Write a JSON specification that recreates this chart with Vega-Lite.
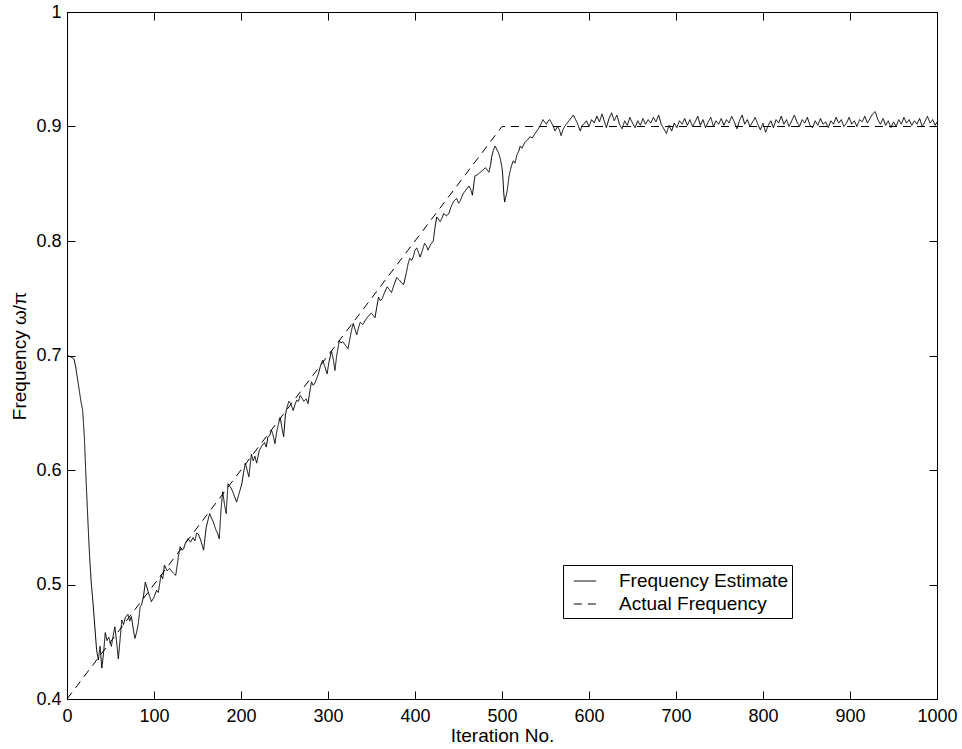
{
  "$schema": "https://vega.github.io/schema/vega-lite/v6.json",
  "autosize": "none",
  "width": 870,
  "height": 687,
  "padding": {"left": 67, "top": 12, "right": 25, "bottom": 50},
  "background": "white",
  "config": {
    "font": "Liberation Sans",
    "view": {"stroke": "black", "strokeWidth": 1},
    "axis": {
      "grid": false,
      "domainColor": "black",
      "domainWidth": 1,
      "tickColor": "black",
      "tickWidth": 1,
      "tickSize": -8,
      "labelColor": "black",
      "labelFontSize": 18,
      "labelFlush": false,
      "labelOverlap": false,
      "titleColor": "black",
      "titleFontSize": 19,
      "titleFontWeight": "normal"
    }
  },
  "datasets": {
    "estimate": [
      {"iter": 0, "value": 0.700, "series": "Frequency Estimate"},
      {"iter": 4, "value": 0.699, "series": "Frequency Estimate"},
      {"iter": 8, "value": 0.697, "series": "Frequency Estimate"},
      {"iter": 10, "value": 0.690, "series": "Frequency Estimate"},
      {"iter": 13, "value": 0.675, "series": "Frequency Estimate"},
      {"iter": 16, "value": 0.660, "series": "Frequency Estimate"},
      {"iter": 18, "value": 0.652, "series": "Frequency Estimate"},
      {"iter": 20, "value": 0.628, "series": "Frequency Estimate"},
      {"iter": 22, "value": 0.590, "series": "Frequency Estimate"},
      {"iter": 24, "value": 0.556, "series": "Frequency Estimate"},
      {"iter": 26, "value": 0.524, "series": "Frequency Estimate"},
      {"iter": 28, "value": 0.500, "series": "Frequency Estimate"},
      {"iter": 30, "value": 0.483, "series": "Frequency Estimate"},
      {"iter": 32, "value": 0.463, "series": "Frequency Estimate"},
      {"iter": 34, "value": 0.443, "series": "Frequency Estimate"},
      {"iter": 36, "value": 0.434, "series": "Frequency Estimate"},
      {"iter": 38, "value": 0.446, "series": "Frequency Estimate"},
      {"iter": 40, "value": 0.427, "series": "Frequency Estimate"},
      {"iter": 42, "value": 0.440, "series": "Frequency Estimate"},
      {"iter": 44, "value": 0.458, "series": "Frequency Estimate"},
      {"iter": 46, "value": 0.451, "series": "Frequency Estimate"},
      {"iter": 48, "value": 0.454, "series": "Frequency Estimate"},
      {"iter": 51, "value": 0.446, "series": "Frequency Estimate"},
      {"iter": 53, "value": 0.455, "series": "Frequency Estimate"},
      {"iter": 55, "value": 0.463, "series": "Frequency Estimate"},
      {"iter": 57, "value": 0.450, "series": "Frequency Estimate"},
      {"iter": 59, "value": 0.435, "series": "Frequency Estimate"},
      {"iter": 61, "value": 0.452, "series": "Frequency Estimate"},
      {"iter": 63, "value": 0.469, "series": "Frequency Estimate"},
      {"iter": 65, "value": 0.465, "series": "Frequency Estimate"},
      {"iter": 67, "value": 0.471, "series": "Frequency Estimate"},
      {"iter": 70, "value": 0.474, "series": "Frequency Estimate"},
      {"iter": 72, "value": 0.468, "series": "Frequency Estimate"},
      {"iter": 74, "value": 0.472, "series": "Frequency Estimate"},
      {"iter": 76, "value": 0.462, "series": "Frequency Estimate"},
      {"iter": 78, "value": 0.453, "series": "Frequency Estimate"},
      {"iter": 80, "value": 0.458, "series": "Frequency Estimate"},
      {"iter": 82, "value": 0.466, "series": "Frequency Estimate"},
      {"iter": 84, "value": 0.480, "series": "Frequency Estimate"},
      {"iter": 86, "value": 0.483, "series": "Frequency Estimate"},
      {"iter": 88, "value": 0.490, "series": "Frequency Estimate"},
      {"iter": 90, "value": 0.502, "series": "Frequency Estimate"},
      {"iter": 92, "value": 0.497, "series": "Frequency Estimate"},
      {"iter": 94, "value": 0.492, "series": "Frequency Estimate"},
      {"iter": 97, "value": 0.485, "series": "Frequency Estimate"},
      {"iter": 100, "value": 0.489, "series": "Frequency Estimate"},
      {"iter": 103, "value": 0.495, "series": "Frequency Estimate"},
      {"iter": 105, "value": 0.493, "series": "Frequency Estimate"},
      {"iter": 108, "value": 0.508, "series": "Frequency Estimate"},
      {"iter": 110, "value": 0.505, "series": "Frequency Estimate"},
      {"iter": 112, "value": 0.517, "series": "Frequency Estimate"},
      {"iter": 115, "value": 0.512, "series": "Frequency Estimate"},
      {"iter": 118, "value": 0.514, "series": "Frequency Estimate"},
      {"iter": 121, "value": 0.511, "series": "Frequency Estimate"},
      {"iter": 125, "value": 0.508, "series": "Frequency Estimate"},
      {"iter": 128, "value": 0.524, "series": "Frequency Estimate"},
      {"iter": 130, "value": 0.533, "series": "Frequency Estimate"},
      {"iter": 132, "value": 0.530, "series": "Frequency Estimate"},
      {"iter": 134, "value": 0.531, "series": "Frequency Estimate"},
      {"iter": 136, "value": 0.536, "series": "Frequency Estimate"},
      {"iter": 139, "value": 0.540, "series": "Frequency Estimate"},
      {"iter": 142, "value": 0.537, "series": "Frequency Estimate"},
      {"iter": 145, "value": 0.541, "series": "Frequency Estimate"},
      {"iter": 147, "value": 0.538, "series": "Frequency Estimate"},
      {"iter": 149, "value": 0.545, "series": "Frequency Estimate"},
      {"iter": 151, "value": 0.544, "series": "Frequency Estimate"},
      {"iter": 154, "value": 0.538, "series": "Frequency Estimate"},
      {"iter": 157, "value": 0.530, "series": "Frequency Estimate"},
      {"iter": 160, "value": 0.550, "series": "Frequency Estimate"},
      {"iter": 162, "value": 0.556, "series": "Frequency Estimate"},
      {"iter": 164, "value": 0.562, "series": "Frequency Estimate"},
      {"iter": 166, "value": 0.558, "series": "Frequency Estimate"},
      {"iter": 168, "value": 0.555, "series": "Frequency Estimate"},
      {"iter": 171, "value": 0.548, "series": "Frequency Estimate"},
      {"iter": 173, "value": 0.545, "series": "Frequency Estimate"},
      {"iter": 175, "value": 0.540, "series": "Frequency Estimate"},
      {"iter": 177, "value": 0.565, "series": "Frequency Estimate"},
      {"iter": 179, "value": 0.581, "series": "Frequency Estimate"},
      {"iter": 181, "value": 0.570, "series": "Frequency Estimate"},
      {"iter": 183, "value": 0.562, "series": "Frequency Estimate"},
      {"iter": 185, "value": 0.588, "series": "Frequency Estimate"},
      {"iter": 188, "value": 0.585, "series": "Frequency Estimate"},
      {"iter": 190, "value": 0.582, "series": "Frequency Estimate"},
      {"iter": 193, "value": 0.576, "series": "Frequency Estimate"},
      {"iter": 195, "value": 0.572, "series": "Frequency Estimate"},
      {"iter": 198, "value": 0.580, "series": "Frequency Estimate"},
      {"iter": 201, "value": 0.588, "series": "Frequency Estimate"},
      {"iter": 203, "value": 0.598, "series": "Frequency Estimate"},
      {"iter": 205, "value": 0.606, "series": "Frequency Estimate"},
      {"iter": 207, "value": 0.600, "series": "Frequency Estimate"},
      {"iter": 209, "value": 0.594, "series": "Frequency Estimate"},
      {"iter": 212, "value": 0.614, "series": "Frequency Estimate"},
      {"iter": 214, "value": 0.608, "series": "Frequency Estimate"},
      {"iter": 216, "value": 0.612, "series": "Frequency Estimate"},
      {"iter": 218, "value": 0.606, "series": "Frequency Estimate"},
      {"iter": 221, "value": 0.617, "series": "Frequency Estimate"},
      {"iter": 224, "value": 0.621, "series": "Frequency Estimate"},
      {"iter": 227, "value": 0.624, "series": "Frequency Estimate"},
      {"iter": 229, "value": 0.620, "series": "Frequency Estimate"},
      {"iter": 231, "value": 0.629, "series": "Frequency Estimate"},
      {"iter": 233, "value": 0.630, "series": "Frequency Estimate"},
      {"iter": 235, "value": 0.635, "series": "Frequency Estimate"},
      {"iter": 237, "value": 0.630, "series": "Frequency Estimate"},
      {"iter": 239, "value": 0.623, "series": "Frequency Estimate"},
      {"iter": 241, "value": 0.633, "series": "Frequency Estimate"},
      {"iter": 243, "value": 0.640, "series": "Frequency Estimate"},
      {"iter": 245, "value": 0.646, "series": "Frequency Estimate"},
      {"iter": 247, "value": 0.637, "series": "Frequency Estimate"},
      {"iter": 249, "value": 0.629, "series": "Frequency Estimate"},
      {"iter": 251, "value": 0.648, "series": "Frequency Estimate"},
      {"iter": 253, "value": 0.655, "series": "Frequency Estimate"},
      {"iter": 255, "value": 0.660, "series": "Frequency Estimate"},
      {"iter": 257, "value": 0.658, "series": "Frequency Estimate"},
      {"iter": 260, "value": 0.652, "series": "Frequency Estimate"},
      {"iter": 262, "value": 0.657, "series": "Frequency Estimate"},
      {"iter": 264, "value": 0.661, "series": "Frequency Estimate"},
      {"iter": 266, "value": 0.660, "series": "Frequency Estimate"},
      {"iter": 268, "value": 0.665, "series": "Frequency Estimate"},
      {"iter": 270, "value": 0.663, "series": "Frequency Estimate"},
      {"iter": 272, "value": 0.660, "series": "Frequency Estimate"},
      {"iter": 275, "value": 0.662, "series": "Frequency Estimate"},
      {"iter": 277, "value": 0.658, "series": "Frequency Estimate"},
      {"iter": 279, "value": 0.668, "series": "Frequency Estimate"},
      {"iter": 281, "value": 0.677, "series": "Frequency Estimate"},
      {"iter": 283, "value": 0.674, "series": "Frequency Estimate"},
      {"iter": 285, "value": 0.676, "series": "Frequency Estimate"},
      {"iter": 287, "value": 0.680, "series": "Frequency Estimate"},
      {"iter": 289, "value": 0.684, "series": "Frequency Estimate"},
      {"iter": 291, "value": 0.690, "series": "Frequency Estimate"},
      {"iter": 294, "value": 0.696, "series": "Frequency Estimate"},
      {"iter": 296, "value": 0.691, "series": "Frequency Estimate"},
      {"iter": 299, "value": 0.684, "series": "Frequency Estimate"},
      {"iter": 301, "value": 0.694, "series": "Frequency Estimate"},
      {"iter": 304, "value": 0.704, "series": "Frequency Estimate"},
      {"iter": 306, "value": 0.697, "series": "Frequency Estimate"},
      {"iter": 308, "value": 0.687, "series": "Frequency Estimate"},
      {"iter": 310, "value": 0.700, "series": "Frequency Estimate"},
      {"iter": 313, "value": 0.713, "series": "Frequency Estimate"},
      {"iter": 315, "value": 0.711, "series": "Frequency Estimate"},
      {"iter": 317, "value": 0.712, "series": "Frequency Estimate"},
      {"iter": 320, "value": 0.709, "series": "Frequency Estimate"},
      {"iter": 323, "value": 0.706, "series": "Frequency Estimate"},
      {"iter": 325, "value": 0.714, "series": "Frequency Estimate"},
      {"iter": 327, "value": 0.722, "series": "Frequency Estimate"},
      {"iter": 329, "value": 0.728, "series": "Frequency Estimate"},
      {"iter": 331, "value": 0.723, "series": "Frequency Estimate"},
      {"iter": 333, "value": 0.718, "series": "Frequency Estimate"},
      {"iter": 335, "value": 0.724, "series": "Frequency Estimate"},
      {"iter": 337, "value": 0.729, "series": "Frequency Estimate"},
      {"iter": 340, "value": 0.727, "series": "Frequency Estimate"},
      {"iter": 343, "value": 0.731, "series": "Frequency Estimate"},
      {"iter": 345, "value": 0.733, "series": "Frequency Estimate"},
      {"iter": 347, "value": 0.735, "series": "Frequency Estimate"},
      {"iter": 350, "value": 0.737, "series": "Frequency Estimate"},
      {"iter": 352, "value": 0.735, "series": "Frequency Estimate"},
      {"iter": 354, "value": 0.733, "series": "Frequency Estimate"},
      {"iter": 356, "value": 0.742, "series": "Frequency Estimate"},
      {"iter": 358, "value": 0.751, "series": "Frequency Estimate"},
      {"iter": 360, "value": 0.748, "series": "Frequency Estimate"},
      {"iter": 362, "value": 0.749, "series": "Frequency Estimate"},
      {"iter": 365, "value": 0.755, "series": "Frequency Estimate"},
      {"iter": 368, "value": 0.760, "series": "Frequency Estimate"},
      {"iter": 370, "value": 0.758, "series": "Frequency Estimate"},
      {"iter": 373, "value": 0.755, "series": "Frequency Estimate"},
      {"iter": 376, "value": 0.762, "series": "Frequency Estimate"},
      {"iter": 379, "value": 0.768, "series": "Frequency Estimate"},
      {"iter": 382, "value": 0.766, "series": "Frequency Estimate"},
      {"iter": 385, "value": 0.763, "series": "Frequency Estimate"},
      {"iter": 387, "value": 0.762, "series": "Frequency Estimate"},
      {"iter": 390, "value": 0.772, "series": "Frequency Estimate"},
      {"iter": 392, "value": 0.780, "series": "Frequency Estimate"},
      {"iter": 394, "value": 0.785, "series": "Frequency Estimate"},
      {"iter": 396, "value": 0.783, "series": "Frequency Estimate"},
      {"iter": 398, "value": 0.786, "series": "Frequency Estimate"},
      {"iter": 400, "value": 0.792, "series": "Frequency Estimate"},
      {"iter": 402, "value": 0.794, "series": "Frequency Estimate"},
      {"iter": 404, "value": 0.790, "series": "Frequency Estimate"},
      {"iter": 406, "value": 0.786, "series": "Frequency Estimate"},
      {"iter": 409, "value": 0.793, "series": "Frequency Estimate"},
      {"iter": 411, "value": 0.798, "series": "Frequency Estimate"},
      {"iter": 413, "value": 0.796, "series": "Frequency Estimate"},
      {"iter": 415, "value": 0.792, "series": "Frequency Estimate"},
      {"iter": 418, "value": 0.797, "series": "Frequency Estimate"},
      {"iter": 421, "value": 0.800, "series": "Frequency Estimate"},
      {"iter": 423, "value": 0.812, "series": "Frequency Estimate"},
      {"iter": 425, "value": 0.821, "series": "Frequency Estimate"},
      {"iter": 427, "value": 0.819, "series": "Frequency Estimate"},
      {"iter": 429, "value": 0.817, "series": "Frequency Estimate"},
      {"iter": 431, "value": 0.820, "series": "Frequency Estimate"},
      {"iter": 433, "value": 0.824, "series": "Frequency Estimate"},
      {"iter": 436, "value": 0.822, "series": "Frequency Estimate"},
      {"iter": 439, "value": 0.824, "series": "Frequency Estimate"},
      {"iter": 441, "value": 0.829, "series": "Frequency Estimate"},
      {"iter": 444, "value": 0.834, "series": "Frequency Estimate"},
      {"iter": 446, "value": 0.836, "series": "Frequency Estimate"},
      {"iter": 448, "value": 0.837, "series": "Frequency Estimate"},
      {"iter": 450, "value": 0.833, "series": "Frequency Estimate"},
      {"iter": 452, "value": 0.835, "series": "Frequency Estimate"},
      {"iter": 455, "value": 0.841, "series": "Frequency Estimate"},
      {"iter": 458, "value": 0.844, "series": "Frequency Estimate"},
      {"iter": 460, "value": 0.846, "series": "Frequency Estimate"},
      {"iter": 462, "value": 0.848, "series": "Frequency Estimate"},
      {"iter": 464, "value": 0.845, "series": "Frequency Estimate"},
      {"iter": 466, "value": 0.840, "series": "Frequency Estimate"},
      {"iter": 468, "value": 0.852, "series": "Frequency Estimate"},
      {"iter": 469, "value": 0.857, "series": "Frequency Estimate"},
      {"iter": 472, "value": 0.858, "series": "Frequency Estimate"},
      {"iter": 475, "value": 0.860, "series": "Frequency Estimate"},
      {"iter": 478, "value": 0.862, "series": "Frequency Estimate"},
      {"iter": 481, "value": 0.864, "series": "Frequency Estimate"},
      {"iter": 483, "value": 0.862, "series": "Frequency Estimate"},
      {"iter": 485, "value": 0.860, "series": "Frequency Estimate"},
      {"iter": 487, "value": 0.867, "series": "Frequency Estimate"},
      {"iter": 488, "value": 0.873, "series": "Frequency Estimate"},
      {"iter": 490, "value": 0.879, "series": "Frequency Estimate"},
      {"iter": 492, "value": 0.883, "series": "Frequency Estimate"},
      {"iter": 494, "value": 0.880, "series": "Frequency Estimate"},
      {"iter": 496, "value": 0.877, "series": "Frequency Estimate"},
      {"iter": 498, "value": 0.872, "series": "Frequency Estimate"},
      {"iter": 500, "value": 0.864, "series": "Frequency Estimate"},
      {"iter": 501, "value": 0.856, "series": "Frequency Estimate"},
      {"iter": 502, "value": 0.842, "series": "Frequency Estimate"},
      {"iter": 503, "value": 0.834, "series": "Frequency Estimate"},
      {"iter": 504, "value": 0.837, "series": "Frequency Estimate"},
      {"iter": 506, "value": 0.844, "series": "Frequency Estimate"},
      {"iter": 508, "value": 0.856, "series": "Frequency Estimate"},
      {"iter": 509, "value": 0.860, "series": "Frequency Estimate"},
      {"iter": 511, "value": 0.866, "series": "Frequency Estimate"},
      {"iter": 513, "value": 0.870, "series": "Frequency Estimate"},
      {"iter": 515, "value": 0.868, "series": "Frequency Estimate"},
      {"iter": 517, "value": 0.875, "series": "Frequency Estimate"},
      {"iter": 519, "value": 0.878, "series": "Frequency Estimate"},
      {"iter": 521, "value": 0.883, "series": "Frequency Estimate"},
      {"iter": 523, "value": 0.881, "series": "Frequency Estimate"},
      {"iter": 526, "value": 0.886, "series": "Frequency Estimate"},
      {"iter": 529, "value": 0.888, "series": "Frequency Estimate"},
      {"iter": 532, "value": 0.891, "series": "Frequency Estimate"},
      {"iter": 535, "value": 0.890, "series": "Frequency Estimate"},
      {"iter": 538, "value": 0.894, "series": "Frequency Estimate"},
      {"iter": 541, "value": 0.897, "series": "Frequency Estimate"},
      {"iter": 544, "value": 0.901, "series": "Frequency Estimate"},
      {"iter": 546, "value": 0.904, "series": "Frequency Estimate"},
      {"iter": 547, "value": 0.906, "series": "Frequency Estimate"},
      {"iter": 549, "value": 0.904, "series": "Frequency Estimate"},
      {"iter": 551, "value": 0.902, "series": "Frequency Estimate"},
      {"iter": 553, "value": 0.905, "series": "Frequency Estimate"},
      {"iter": 555, "value": 0.906, "series": "Frequency Estimate"},
      {"iter": 557, "value": 0.903, "series": "Frequency Estimate"},
      {"iter": 559, "value": 0.900, "series": "Frequency Estimate"},
      {"iter": 561, "value": 0.896, "series": "Frequency Estimate"},
      {"iter": 563, "value": 0.899, "series": "Frequency Estimate"},
      {"iter": 564, "value": 0.900, "series": "Frequency Estimate"},
      {"iter": 566, "value": 0.897, "series": "Frequency Estimate"},
      {"iter": 568, "value": 0.892, "series": "Frequency Estimate"},
      {"iter": 570, "value": 0.897, "series": "Frequency Estimate"},
      {"iter": 572, "value": 0.900, "series": "Frequency Estimate"},
      {"iter": 574, "value": 0.902, "series": "Frequency Estimate"},
      {"iter": 576, "value": 0.904, "series": "Frequency Estimate"},
      {"iter": 578, "value": 0.906, "series": "Frequency Estimate"},
      {"iter": 580, "value": 0.908, "series": "Frequency Estimate"},
      {"iter": 582, "value": 0.910, "series": "Frequency Estimate"},
      {"iter": 584, "value": 0.907, "series": "Frequency Estimate"},
      {"iter": 586, "value": 0.904, "series": "Frequency Estimate"},
      {"iter": 588, "value": 0.900, "series": "Frequency Estimate"},
      {"iter": 590, "value": 0.896, "series": "Frequency Estimate"},
      {"iter": 592, "value": 0.901, "series": "Frequency Estimate"},
      {"iter": 594, "value": 0.902, "series": "Frequency Estimate"},
      {"iter": 597, "value": 0.905, "series": "Frequency Estimate"},
      {"iter": 600, "value": 0.900, "series": "Frequency Estimate"},
      {"iter": 603, "value": 0.906, "series": "Frequency Estimate"},
      {"iter": 606, "value": 0.903, "series": "Frequency Estimate"},
      {"iter": 609, "value": 0.909, "series": "Frequency Estimate"},
      {"iter": 612, "value": 0.904, "series": "Frequency Estimate"},
      {"iter": 615, "value": 0.911, "series": "Frequency Estimate"},
      {"iter": 617, "value": 0.906, "series": "Frequency Estimate"},
      {"iter": 620, "value": 0.899, "series": "Frequency Estimate"},
      {"iter": 623, "value": 0.907, "series": "Frequency Estimate"},
      {"iter": 626, "value": 0.912, "series": "Frequency Estimate"},
      {"iter": 629, "value": 0.905, "series": "Frequency Estimate"},
      {"iter": 632, "value": 0.910, "series": "Frequency Estimate"},
      {"iter": 635, "value": 0.902, "series": "Frequency Estimate"},
      {"iter": 638, "value": 0.898, "series": "Frequency Estimate"},
      {"iter": 641, "value": 0.905, "series": "Frequency Estimate"},
      {"iter": 644, "value": 0.901, "series": "Frequency Estimate"},
      {"iter": 647, "value": 0.908, "series": "Frequency Estimate"},
      {"iter": 650, "value": 0.903, "series": "Frequency Estimate"},
      {"iter": 653, "value": 0.899, "series": "Frequency Estimate"},
      {"iter": 656, "value": 0.905, "series": "Frequency Estimate"},
      {"iter": 659, "value": 0.901, "series": "Frequency Estimate"},
      {"iter": 662, "value": 0.907, "series": "Frequency Estimate"},
      {"iter": 665, "value": 0.902, "series": "Frequency Estimate"},
      {"iter": 668, "value": 0.906, "series": "Frequency Estimate"},
      {"iter": 671, "value": 0.903, "series": "Frequency Estimate"},
      {"iter": 674, "value": 0.908, "series": "Frequency Estimate"},
      {"iter": 677, "value": 0.904, "series": "Frequency Estimate"},
      {"iter": 680, "value": 0.910, "series": "Frequency Estimate"},
      {"iter": 683, "value": 0.902, "series": "Frequency Estimate"},
      {"iter": 686, "value": 0.898, "series": "Frequency Estimate"},
      {"iter": 689, "value": 0.894, "series": "Frequency Estimate"},
      {"iter": 692, "value": 0.901, "series": "Frequency Estimate"},
      {"iter": 695, "value": 0.896, "series": "Frequency Estimate"},
      {"iter": 698, "value": 0.903, "series": "Frequency Estimate"},
      {"iter": 701, "value": 0.899, "series": "Frequency Estimate"},
      {"iter": 704, "value": 0.905, "series": "Frequency Estimate"},
      {"iter": 707, "value": 0.902, "series": "Frequency Estimate"},
      {"iter": 710, "value": 0.907, "series": "Frequency Estimate"},
      {"iter": 713, "value": 0.901, "series": "Frequency Estimate"},
      {"iter": 716, "value": 0.906, "series": "Frequency Estimate"},
      {"iter": 719, "value": 0.900, "series": "Frequency Estimate"},
      {"iter": 722, "value": 0.904, "series": "Frequency Estimate"},
      {"iter": 725, "value": 0.909, "series": "Frequency Estimate"},
      {"iter": 728, "value": 0.901, "series": "Frequency Estimate"},
      {"iter": 731, "value": 0.906, "series": "Frequency Estimate"},
      {"iter": 734, "value": 0.899, "series": "Frequency Estimate"},
      {"iter": 737, "value": 0.904, "series": "Frequency Estimate"},
      {"iter": 740, "value": 0.908, "series": "Frequency Estimate"},
      {"iter": 743, "value": 0.900, "series": "Frequency Estimate"},
      {"iter": 746, "value": 0.905, "series": "Frequency Estimate"},
      {"iter": 749, "value": 0.902, "series": "Frequency Estimate"},
      {"iter": 752, "value": 0.907, "series": "Frequency Estimate"},
      {"iter": 755, "value": 0.901, "series": "Frequency Estimate"},
      {"iter": 758, "value": 0.906, "series": "Frequency Estimate"},
      {"iter": 761, "value": 0.903, "series": "Frequency Estimate"},
      {"iter": 764, "value": 0.909, "series": "Frequency Estimate"},
      {"iter": 767, "value": 0.904, "series": "Frequency Estimate"},
      {"iter": 770, "value": 0.898, "series": "Frequency Estimate"},
      {"iter": 773, "value": 0.905, "series": "Frequency Estimate"},
      {"iter": 776, "value": 0.910, "series": "Frequency Estimate"},
      {"iter": 779, "value": 0.902, "series": "Frequency Estimate"},
      {"iter": 782, "value": 0.906, "series": "Frequency Estimate"},
      {"iter": 785, "value": 0.900, "series": "Frequency Estimate"},
      {"iter": 788, "value": 0.904, "series": "Frequency Estimate"},
      {"iter": 791, "value": 0.908, "series": "Frequency Estimate"},
      {"iter": 794, "value": 0.902, "series": "Frequency Estimate"},
      {"iter": 797, "value": 0.897, "series": "Frequency Estimate"},
      {"iter": 800, "value": 0.903, "series": "Frequency Estimate"},
      {"iter": 803, "value": 0.895, "series": "Frequency Estimate"},
      {"iter": 806, "value": 0.901, "series": "Frequency Estimate"},
      {"iter": 809, "value": 0.905, "series": "Frequency Estimate"},
      {"iter": 812, "value": 0.899, "series": "Frequency Estimate"},
      {"iter": 815, "value": 0.906, "series": "Frequency Estimate"},
      {"iter": 818, "value": 0.903, "series": "Frequency Estimate"},
      {"iter": 821, "value": 0.909, "series": "Frequency Estimate"},
      {"iter": 824, "value": 0.902, "series": "Frequency Estimate"},
      {"iter": 827, "value": 0.906, "series": "Frequency Estimate"},
      {"iter": 830, "value": 0.900, "series": "Frequency Estimate"},
      {"iter": 833, "value": 0.905, "series": "Frequency Estimate"},
      {"iter": 836, "value": 0.910, "series": "Frequency Estimate"},
      {"iter": 839, "value": 0.904, "series": "Frequency Estimate"},
      {"iter": 842, "value": 0.900, "series": "Frequency Estimate"},
      {"iter": 845, "value": 0.906, "series": "Frequency Estimate"},
      {"iter": 848, "value": 0.903, "series": "Frequency Estimate"},
      {"iter": 851, "value": 0.908, "series": "Frequency Estimate"},
      {"iter": 854, "value": 0.901, "series": "Frequency Estimate"},
      {"iter": 857, "value": 0.899, "series": "Frequency Estimate"},
      {"iter": 860, "value": 0.905, "series": "Frequency Estimate"},
      {"iter": 863, "value": 0.901, "series": "Frequency Estimate"},
      {"iter": 866, "value": 0.907, "series": "Frequency Estimate"},
      {"iter": 869, "value": 0.902, "series": "Frequency Estimate"},
      {"iter": 872, "value": 0.904, "series": "Frequency Estimate"},
      {"iter": 875, "value": 0.899, "series": "Frequency Estimate"},
      {"iter": 878, "value": 0.905, "series": "Frequency Estimate"},
      {"iter": 881, "value": 0.902, "series": "Frequency Estimate"},
      {"iter": 884, "value": 0.908, "series": "Frequency Estimate"},
      {"iter": 887, "value": 0.903, "series": "Frequency Estimate"},
      {"iter": 890, "value": 0.906, "series": "Frequency Estimate"},
      {"iter": 893, "value": 0.900, "series": "Frequency Estimate"},
      {"iter": 896, "value": 0.903, "series": "Frequency Estimate"},
      {"iter": 899, "value": 0.908, "series": "Frequency Estimate"},
      {"iter": 902, "value": 0.902, "series": "Frequency Estimate"},
      {"iter": 905, "value": 0.905, "series": "Frequency Estimate"},
      {"iter": 908, "value": 0.900, "series": "Frequency Estimate"},
      {"iter": 911, "value": 0.906, "series": "Frequency Estimate"},
      {"iter": 914, "value": 0.904, "series": "Frequency Estimate"},
      {"iter": 917, "value": 0.909, "series": "Frequency Estimate"},
      {"iter": 920, "value": 0.903, "series": "Frequency Estimate"},
      {"iter": 923, "value": 0.907, "series": "Frequency Estimate"},
      {"iter": 926, "value": 0.911, "series": "Frequency Estimate"},
      {"iter": 929, "value": 0.913, "series": "Frequency Estimate"},
      {"iter": 932, "value": 0.906, "series": "Frequency Estimate"},
      {"iter": 935, "value": 0.902, "series": "Frequency Estimate"},
      {"iter": 938, "value": 0.907, "series": "Frequency Estimate"},
      {"iter": 941, "value": 0.901, "series": "Frequency Estimate"},
      {"iter": 944, "value": 0.905, "series": "Frequency Estimate"},
      {"iter": 947, "value": 0.899, "series": "Frequency Estimate"},
      {"iter": 950, "value": 0.904, "series": "Frequency Estimate"},
      {"iter": 953, "value": 0.900, "series": "Frequency Estimate"},
      {"iter": 956, "value": 0.906, "series": "Frequency Estimate"},
      {"iter": 959, "value": 0.902, "series": "Frequency Estimate"},
      {"iter": 962, "value": 0.908, "series": "Frequency Estimate"},
      {"iter": 965, "value": 0.903, "series": "Frequency Estimate"},
      {"iter": 968, "value": 0.906, "series": "Frequency Estimate"},
      {"iter": 971, "value": 0.901, "series": "Frequency Estimate"},
      {"iter": 974, "value": 0.905, "series": "Frequency Estimate"},
      {"iter": 977, "value": 0.902, "series": "Frequency Estimate"},
      {"iter": 980, "value": 0.907, "series": "Frequency Estimate"},
      {"iter": 983, "value": 0.900, "series": "Frequency Estimate"},
      {"iter": 986, "value": 0.904, "series": "Frequency Estimate"},
      {"iter": 989, "value": 0.909, "series": "Frequency Estimate"},
      {"iter": 992, "value": 0.903, "series": "Frequency Estimate"},
      {"iter": 995, "value": 0.906, "series": "Frequency Estimate"},
      {"iter": 998, "value": 0.901, "series": "Frequency Estimate"},
      {"iter": 1000, "value": 0.904, "series": "Frequency Estimate"}
    ],
    "actual": [
      {"iter": 0, "value": 0.4, "series": "Actual Frequency"},
      {"iter": 500, "value": 0.9, "series": "Actual Frequency"},
      {"iter": 1000, "value": 0.9, "series": "Actual Frequency"}
    ]
  },
  "layer": [
    {
      "data": {"name": "estimate"},
      "mark": {"type": "line", "color": "black", "strokeWidth": 1},
      "encoding": {
        "x": {
          "field": "iter",
          "type": "quantitative",
          "scale": {"domain": [0, 1000], "nice": false, "zero": false},
          "axis": {
            "orient": "bottom",
            "title": "Iteration No.",
            "values": [0, 100, 200, 300, 400, 500, 600, 700, 800, 900, 1000],
            "format": "d",
            "labelPadding": 16,
            "titlePadding": 1
          }
        },
        "y": {
          "field": "value",
          "type": "quantitative",
          "scale": {"domain": [0.4, 1], "nice": false, "zero": false},
          "axis": {
            "orient": "left",
            "title": "Frequency ω/π",
            "values": [0.4, 0.5, 0.6, 0.7, 0.8, 0.9, 1],
            "format": "~g",
            "labelPadding": 14,
            "titlePadding": 6
          }
        },
        "strokeDash": {
          "field": "series",
          "type": "nominal",
          "scale": {
            "domain": ["Frequency Estimate", "Actual Frequency"],
            "range": [[1, 0], [8, 6]]
          },
          "legend": {
            "orient": "none",
            "legendX": 496,
            "legendY": 553,
            "title": null,
            "strokeColor": "black",
            "fillColor": "white",
            "padding": 4,
            "symbolType": "stroke",
            "symbolSize": 500,
            "symbolStrokeWidth": 1,
            "symbolStrokeColor": "black",
            "symbolOffset": 6,
            "labelOffset": 22,
            "labelLimit": 400,
            "labelFontSize": 19,
            "labelColor": "black",
            "rowPadding": 1
          }
        }
      }
    },
    {
      "data": {"name": "actual"},
      "mark": {"type": "line", "color": "black", "strokeWidth": 1},
      "encoding": {
        "x": {
          "field": "iter",
          "type": "quantitative",
          "scale": {"domain": [0, 1000], "nice": false, "zero": false},
          "axis": {
            "orient": "top",
            "title": null,
            "labels": false,
            "values": [0, 100, 200, 300, 400, 500, 600, 700, 800, 900, 1000]
          }
        },
        "y": {
          "field": "value",
          "type": "quantitative",
          "scale": {"domain": [0.4, 1], "nice": false, "zero": false},
          "axis": {
            "orient": "right",
            "title": null,
            "labels": false,
            "values": [0.4, 0.5, 0.6, 0.7, 0.8, 0.9, 1]
          }
        },
        "strokeDash": {
          "field": "series",
          "type": "nominal",
          "scale": {
            "domain": ["Frequency Estimate", "Actual Frequency"],
            "range": [[1, 0], [8, 6]]
          }
        }
      }
    }
  ]
}
